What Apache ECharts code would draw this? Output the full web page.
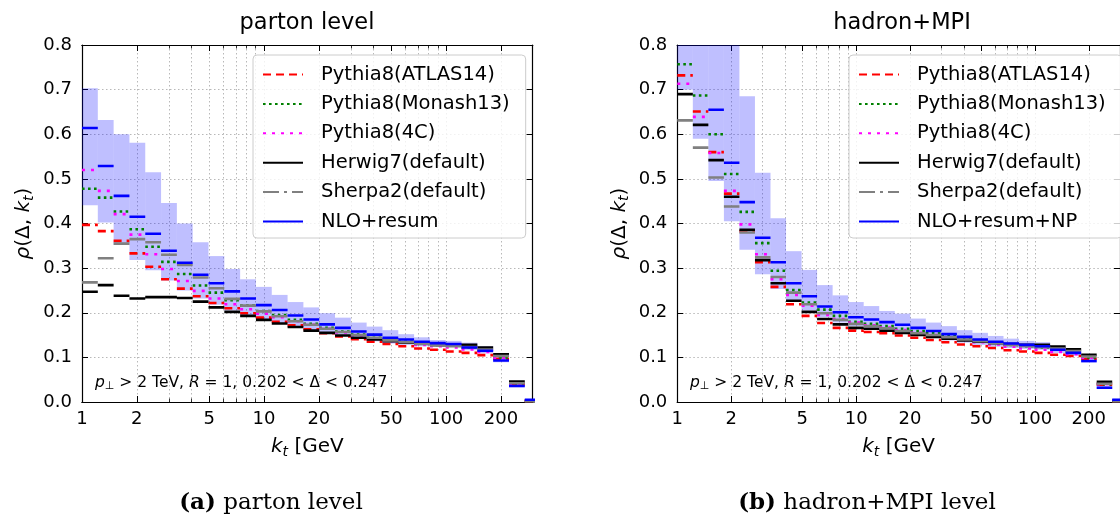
<!DOCTYPE html>
<html>

<head>
  <meta charset="utf-8">
  <title>rho(Delta, kt)</title>
  <script src="https://cdn.jsdelivr.net/npm/echarts@6/dist/echarts.min.js"></script>
  <style>html, body { margin: 0; padding: 0; background: #fff; }</style>
</head>

<body>
  <div id="main" style="width: 1120px;height:517px;"></div>
  <script type="text/javascript">
    // bins are 0.2 wide in ln(kt), starting at kt = 1 GeV; axis stops at ln(kt) = 5.7
    var lnBinWidth = 0.2;
    var lnMax = 5.7;

    var xLabelValues = [1, 2, 5, 10, 20, 50, 100, 200];
    var xMinorValues = [1, 3, 4, 6, 7, 8, 9, 30, 40, 60, 70, 80, 90];

    var mcNames = ['Pythia8(ATLAS14)', 'Pythia8(Monash13)', 'Pythia8(4C)', 'Herwig7(default)', 'Sherpa2(default)'];
    var nloNames = ['NLO+resum', 'NLO+resum+NP'];

    // (a) parton level
    var partonATLAS14 = [0.397, 0.383, 0.361, 0.333, 0.303, 0.275, 0.254, 0.237, 0.222, 0.210, 0.199, 0.189, 0.180, 0.172, 0.163, 0.154, 0.147, 0.141, 0.135, 0.130, 0.125, 0.120, 0.117, 0.113, 0.110, 0.105, 0.097, 0.040, 0.002];
    var partonMonash13 = [0.478, 0.458, 0.427, 0.387, 0.348, 0.314, 0.287, 0.261, 0.245, 0.228, 0.216, 0.204, 0.195, 0.184, 0.175, 0.166, 0.158, 0.151, 0.144, 0.139, 0.135, 0.131, 0.128, 0.126, 0.122, 0.115, 0.100, 0.042, 0.003];
    var parton4C = [0.520, 0.473, 0.421, 0.375, 0.331, 0.298, 0.271, 0.249, 0.232, 0.219, 0.208, 0.198, 0.190, 0.181, 0.173, 0.164, 0.156, 0.149, 0.143, 0.137, 0.133, 0.128, 0.125, 0.122, 0.118, 0.112, 0.099, 0.041, 0.003];
    var partonHerwig7 = [0.247, 0.262, 0.238, 0.232, 0.235, 0.235, 0.233, 0.225, 0.212, 0.202, 0.193, 0.184, 0.176, 0.168, 0.160, 0.155, 0.149, 0.144, 0.140, 0.136, 0.133, 0.131, 0.128, 0.128, 0.128, 0.122, 0.107, 0.046, 0.002];
    var partonSherpa2 = [0.268, 0.322, 0.355, 0.365, 0.358, 0.330, 0.307, 0.279, 0.255, 0.231, 0.216, 0.203, 0.192, 0.181, 0.173, 0.164, 0.157, 0.150, 0.144, 0.138, 0.134, 0.130, 0.127, 0.125, 0.123, 0.117, 0.103, 0.042, 0.002];
    var partonNLO = [0.614, 0.529, 0.462, 0.415, 0.377, 0.339, 0.312, 0.285, 0.266, 0.248, 0.232, 0.217, 0.206, 0.194, 0.185, 0.174, 0.166, 0.158, 0.151, 0.144, 0.140, 0.135, 0.132, 0.130, 0.122, 0.115, 0.093, 0.036, 0.005];
    var partonNLOHi = [0.703, 0.632, 0.600, 0.581, 0.515, 0.446, 0.400, 0.358, 0.327, 0.298, 0.275, 0.258, 0.240, 0.224, 0.212, 0.199, 0.189, 0.178, 0.169, 0.161, 0.152, 0.145, 0.139, 0.137, 0.133, 0.125, 0.100, 0.040, 0.006];
    var partonNLOLo = [0.441, 0.402, 0.352, 0.318, 0.295, 0.272, 0.250, 0.232, 0.218, 0.205, 0.195, 0.185, 0.177, 0.168, 0.161, 0.153, 0.147, 0.141, 0.136, 0.131, 0.128, 0.125, 0.124, 0.124, 0.116, 0.109, 0.089, 0.033, 0.004];

    // (b) hadron+MPI level
    var hadronATLAS14 = [0.732, 0.651, 0.560, 0.467, 0.383, 0.313, 0.258, 0.219, 0.193, 0.177, 0.166, 0.160, 0.157, 0.154, 0.149, 0.144, 0.139, 0.134, 0.129, 0.125, 0.121, 0.116, 0.113, 0.110, 0.106, 0.103, 0.097, 0.039, 0.002];
    var hadronMonash13 = [0.757, 0.687, 0.600, 0.511, 0.426, 0.356, 0.294, 0.251, 0.223, 0.207, 0.193, 0.180, 0.175, 0.170, 0.164, 0.159, 0.155, 0.149, 0.143, 0.138, 0.133, 0.128, 0.125, 0.122, 0.118, 0.112, 0.100, 0.040, 0.003];
    var hadron4C = [0.713, 0.639, 0.558, 0.473, 0.398, 0.331, 0.275, 0.240, 0.216, 0.195, 0.186, 0.178, 0.172, 0.167, 0.161, 0.155, 0.150, 0.145, 0.139, 0.134, 0.129, 0.124, 0.120, 0.117, 0.112, 0.107, 0.099, 0.040, 0.003];
    var hadronHerwig7 = [0.690, 0.621, 0.542, 0.460, 0.386, 0.318, 0.266, 0.227, 0.202, 0.186, 0.174, 0.166, 0.164, 0.160, 0.155, 0.150, 0.146, 0.142, 0.138, 0.135, 0.132, 0.130, 0.128, 0.128, 0.124, 0.118, 0.106, 0.045, 0.002];
    var hadronSherpa2 = [0.631, 0.570, 0.503, 0.438, 0.380, 0.324, 0.280, 0.245, 0.219, 0.199, 0.184, 0.175, 0.170, 0.165, 0.159, 0.154, 0.150, 0.145, 0.140, 0.136, 0.132, 0.128, 0.125, 0.123, 0.120, 0.114, 0.102, 0.041, 0.002];
    var hadronNLO = [0.86, 0.82, 0.655, 0.536, 0.448, 0.368, 0.313, 0.266, 0.237, 0.214, 0.201, 0.190, 0.185, 0.179, 0.173, 0.166, 0.159, 0.152, 0.146, 0.140, 0.135, 0.131, 0.128, 0.125, 0.117, 0.110, 0.092, 0.032, 0.005];
    var hadronNLOHi = [1.0, 0.95, 0.90, 0.85, 0.685, 0.514, 0.412, 0.338, 0.296, 0.262, 0.239, 0.224, 0.215, 0.204, 0.198, 0.187, 0.178, 0.170, 0.161, 0.155, 0.148, 0.142, 0.137, 0.134, 0.126, 0.118, 0.098, 0.036, 0.007];
    var hadronNLOLo = [0.70, 0.59, 0.495, 0.405, 0.341, 0.286, 0.253, 0.228, 0.205, 0.190, 0.178, 0.170, 0.166, 0.161, 0.156, 0.150, 0.144, 0.138, 0.133, 0.128, 0.124, 0.121, 0.119, 0.117, 0.110, 0.104, 0.088, 0.029, 0.004];

    var FONT = 'DejaVu Sans';
    var LW = 2.6;
    var styles = [
      { color: '#ff0000', type: [8, 5] },
      { color: '#008000', type: [2.6, 3.4] },
      { color: '#ff00ff', type: [3, 6] },
      { color: '#000000', type: 'solid' },
      { color: '#808080', type: [16, 5, 3, 5] },
      { color: '#0000ff', type: 'solid' }
    ];

    var log10 = function (v) { return Math.log(v) / Math.LN10; };
    var binEdge = function (i) { return i * lnBinWidth / Math.LN10; };
    var xMax = lnMax / Math.LN10;

    // horizontal segment per bin, broken between bins
    function stepData(vals) {
      var d = [];
      for (var i = 0; i < vals.length; i++) {
        d.push([binEdge(i), vals[i]], [binEdge(i + 1), vals[i]], [binEdge(i + 1), '-']);
      }
      return d;
    }

    function bandData(lo, hi) {
      var d = [];
      for (var i = 0; i < lo.length; i++) d.push([binEdge(i), binEdge(i + 1), lo[i], hi[i]]);
      return d;
    }

    function renderBand(params, api) {
      var p0 = api.coord([api.value(0), api.value(3)]);
      var p1 = api.coord([api.value(1), api.value(2)]);
      var cs = params.coordSys;
      var rect = echarts.graphic.clipRectByRect(
        { x: p0[0], y: p0[1], width: p1[0] - p0[0], height: p1[1] - p0[1] },
        { x: cs.x, y: cs.y, width: cs.width, height: cs.height }
      );
      return rect && { type: 'rect', shape: rect, style: { fill: 'rgba(0,0,255,0.25)' } };
    }

    var grids = [
      { left: 82, top: 45, width: 450.7, height: 357 },
      { left: 677.3, top: 45, width: 449.8, height: 357 }
    ];

    var gridLine = { show: true, lineStyle: { color: '#b0b0b0', width: 0.9, type: [1.5, 2.5] } };
    var frame = { show: true, onZero: false, lineStyle: { color: '#000', width: 1.2 } };
    var nameRich = {
      i: { fontSize: 20, fontFamily: FONT, fontStyle: 'italic', color: '#000' },
      s: { fontSize: 14, fontFamily: FONT, fontStyle: 'italic', color: '#000', verticalAlign: 'bottom', padding: [10, 0, 0, 0] }
    };

    var xAxes = [], yAxes = [];
    [0, 1].forEach(function (g) {
      ['bottom', 'top'].forEach(function (pos) {
        xAxes.push({
          type: 'value', gridIndex: g, position: pos, min: 0, max: xMax,
          axisLine: frame,
          axisTick: { show: true, inside: true, length: 6, customValues: xLabelValues.map(log10), lineStyle: { color: '#000', width: 1 } },
          axisLabel: pos === 'bottom' ? {
            show: true, customValues: xLabelValues.map(log10), margin: 8,
            fontSize: 18, fontFamily: FONT, color: '#000',
            formatter: function (v) { return String(Math.round(Math.pow(10, v))); }
          } : { show: false },
          splitLine: pos === 'bottom' ? gridLine : { show: false },
          name: pos === 'bottom' ? '{i|k}{s|t} [GeV' : '',
          nameLocation: 'middle', nameGap: 33,
          nameTextStyle: { fontSize: 20, fontFamily: FONT, color: '#000', rich: nameRich }
        });
        xAxes.push({
          type: 'value', gridIndex: g, position: pos, min: 0, max: xMax,
          axisLine: frame,
          axisTick: { show: true, inside: true, length: 3.5, customValues: xMinorValues.map(log10), lineStyle: { color: '#000', width: 0.8 } },
          axisLabel: { show: false },
          splitLine: pos === 'bottom' ? gridLine : { show: false }
        });
      });
      ['left', 'right'].forEach(function (pos) {
        yAxes.push({
          type: 'value', gridIndex: g, position: pos, min: 0, max: 0.8, interval: 0.1,
          axisLine: frame,
          axisTick: { show: true, inside: true, length: 6, lineStyle: { color: '#000', width: 1 } },
          axisLabel: pos === 'left' ? {
            show: true, margin: 10, fontSize: 18, fontFamily: FONT, color: '#000',
            formatter: function (v) { return v.toFixed(1); }
          } : { show: false },
          splitLine: pos === 'left' ? gridLine : { show: false },
          name: pos === 'left' ? '{i|ρ}(Δ, {i|k}{s|t})' : '',
          nameLocation: 'middle', nameGap: 46, nameRotate: 90,
          nameTextStyle: { fontSize: 20, fontFamily: FONT, color: '#000', rich: nameRich }
        });
      });
    });

    var panels = [
      { mc: [partonATLAS14, partonMonash13, parton4C, partonHerwig7, partonSherpa2], nlo: partonNLO, lo: partonNLOLo, hi: partonNLOHi, nloName: nloNames[0] },
      { mc: [hadronATLAS14, hadronMonash13, hadron4C, hadronHerwig7, hadronSherpa2], nlo: hadronNLO, lo: hadronNLOLo, hi: hadronNLOHi, nloName: nloNames[1] }
    ];

    var series = [];
    panels.forEach(function (p, g) {
      series.push({
        type: 'custom', xAxisIndex: 4 * g, yAxisIndex: 2 * g,
        renderItem: renderBand, encode: { x: [0, 1], y: [2, 3] },
        data: bandData(p.lo, p.hi), silent: true, z: 1
      });
      var names = mcNames.concat([p.nloName]);
      var vals = p.mc.concat([p.nlo]);
      names.forEach(function (n, k) {
        series.push({
          name: n, type: 'line', xAxisIndex: 4 * g, yAxisIndex: 2 * g,
          data: stepData(vals[k]), symbol: 'none', showSymbol: false, connectNulls: false, clip: true,
          lineStyle: { color: styles[k].color, width: LW, type: styles[k].type, cap: 'butt' },
          itemStyle: { color: styles[k].color }, z: 2 + k
        });
      });
    });

    var legendBase = {
      orient: 'vertical', top: 55, itemWidth: 40, itemHeight: 14, itemGap: 9.4,
      padding: [9.5, 16, 6.5, 9], borderColor: '#cccccc', borderWidth: 1, borderRadius: 4,
      backgroundColor: 'rgba(255,255,255,0.8)',
      itemStyle: { color: 'rgba(0,0,0,0)', borderColor: 'rgba(0,0,0,0)', borderWidth: 0 },
      textStyle: { fontSize: 19.5, fontFamily: FONT, color: '#000', lineHeight: 20, padding: [0, 0, 0, 13] },
      selectedMode: false
    };

    var noteStyle = {
      text: '{i|p}{s|⊥} > 2 TeV, {i|R} = 1, 0.202 < Δ < 0.247', font: '15.5px "DejaVu Sans"', fill: '#000', verticalAlign: 'middle',
      rich: { i: { fontStyle: 'italic', fontSize: 15.5, fontFamily: FONT }, s: { fontSize: 11, fontFamily: FONT, verticalAlign: 'bottom', padding: [7, 0, 0, 0] } }
    };

    var myChart = echarts.init(document.getElementById('main'));
    myChart.setOption({
      animation: false,
      textStyle: { fontFamily: FONT },
      grid: grids,
      xAxis: xAxes,
      yAxis: yAxes,
      legend: [
        Object.assign({}, legendBase, { left: 253, data: mcNames.concat([nloNames[0]]) }),
        Object.assign({}, legendBase, { left: 849, data: mcNames.concat([nloNames[1]]) })
      ],
      graphic: [
        { type: 'text', x: 307, y: 23, style: { text: 'parton level', font: '22.5px "DejaVu Sans"', fill: '#000', align: 'center', verticalAlign: 'middle' } },
        { type: 'text', x: 902, y: 23, style: { text: 'hadron+MPI', font: '22.5px "DejaVu Sans"', fill: '#000', align: 'center', verticalAlign: 'middle' } },
        { type: 'text', x: 95, y: 383, style: noteStyle },
        { type: 'text', x: 690, y: 383, style: noteStyle },
        {
          type: 'text', x: 271, y: 503, style: {
            text: '{b|(a)} parton level', font: '23px "DejaVu Serif"', fill: '#000', align: 'center', verticalAlign: 'middle',
            rich: { b: { fontWeight: 'bold', fontSize: 23, fontFamily: 'DejaVu Serif' } }
          }
        },
        {
          type: 'text', x: 867, y: 503, style: {
            text: '{b|(b)} hadron+MPI level', font: '23px "DejaVu Serif"', fill: '#000', align: 'center', verticalAlign: 'middle',
            rich: { b: { fontWeight: 'bold', fontSize: 23, fontFamily: 'DejaVu Serif' } }
          }
        }
      ],
      series: series
    });
  </script>
</body>

</html>
